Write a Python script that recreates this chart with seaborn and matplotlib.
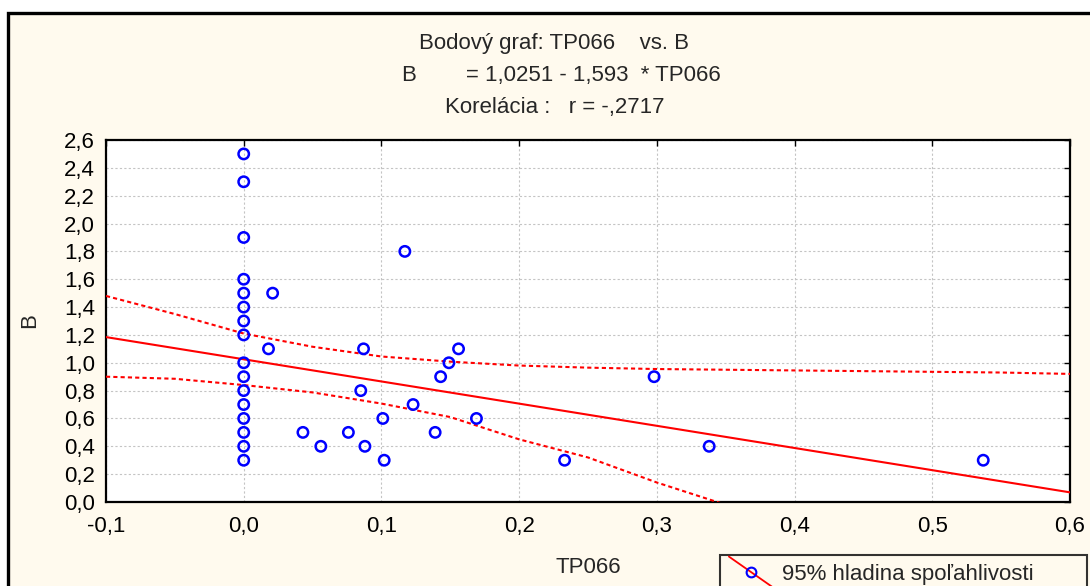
import numpy as np
import pandas as pd
import matplotlib
matplotlib.use("Agg")
import matplotlib.pyplot as plt
import seaborn as sns
from matplotlib.lines import Line2D
from matplotlib.patches import Rectangle
from matplotlib.ticker import FuncFormatter, MultipleLocator
from matplotlib.legend_handler import HandlerLine2D

# --- data ---
tp066 = [0.0] * 16 + [
    0.021, 0.117, 0.018, 0.087, 0.156, 0.149, 0.143, 0.085, 0.123, 0.101,
    0.169, 0.043, 0.076, 0.139, 0.056, 0.088, 0.102, 0.233, 0.298, 0.338, 0.537,
]
b_vals = [2.5, 2.3, 1.9, 1.6, 1.5, 1.4, 1.3, 1.2, 1.0, 0.9, 0.8, 0.7, 0.6, 0.5, 0.4, 0.3] + [
    1.5, 1.8, 1.1, 1.1, 1.1, 1.0, 0.9, 0.8, 0.7, 0.6,
    0.6, 0.5, 0.5, 0.5, 0.4, 0.4, 0.3, 0.3, 0.9, 0.4, 0.3,
]

# regression from the title
intercept = 1.0251
slope = -1.593

# 95% confidence band
band_x = [-0.1, -0.05, 0.0, 0.05, 0.1, 0.15, 0.2, 0.25, 0.3, 0.35, 0.4, 0.45, 0.5, 0.55, 0.6]
band_upper = [1.48, 1.35, 1.21, 1.115, 1.045, 1.008, 0.98, 0.965, 0.955, 0.95, 0.945, 0.94, 0.935, 0.93, 0.92]
band_lower_x = [-0.1, -0.05, 0.0, 0.05, 0.1, 0.15, 0.2, 0.25, 0.3, 0.35]
band_lower = [0.90, 0.885, 0.84, 0.787, 0.707, 0.61, 0.45, 0.32, 0.14, -0.02]

x_ticks = [-0.1, 0.0, 0.1, 0.2, 0.3, 0.4, 0.5, 0.6]
y_ticks = [0.0, 0.2, 0.4, 0.6, 0.8, 1.0, 1.2, 1.4, 1.6, 1.8, 2.0, 2.2, 2.4, 2.6]

CREAM = "#fffaee"
FS = 16


class HandlerDiagonal(HandlerLine2D):
    """Legend handle: slanted red line with the marker in the middle."""
    def create_artists(self, legend, orig_handle, xdescent, ydescent,
                       width, height, fontsize, trans):
        line = Line2D([-xdescent, width - xdescent],
                      [height * 1.5 - ydescent, -height * 0.5 - ydescent],
                      color=orig_handle.get_color(), lw=orig_handle.get_linewidth())
        mark = Line2D([(width - xdescent) / 2], [height / 2 - ydescent],
                      marker=orig_handle.get_marker(), markersize=orig_handle.get_markersize(),
                      markerfacecolor="none", markeredgecolor=orig_handle.get_markeredgecolor(),
                      markeredgewidth=orig_handle.get_markeredgewidth(), linestyle="none")
        line.set_transform(trans)
        mark.set_transform(trans)
        return [line, mark]


def main():
    sns.set_theme(style="white")
    plt.rcParams["font.family"] = ["Liberation Sans", "DejaVu Sans"]

    fig = plt.figure(figsize=(10.9, 5.86), dpi=100, facecolor="white")
    # outer cream panel with black frame (cut at right and bottom)
    fig.patches.append(Rectangle((8 / 1090, -0.2), 1.2, 1.2 - 13 / 586,
                                 transform=fig.transFigure, facecolor=CREAM,
                                 edgecolor="black", lw=2.4, zorder=-5))

    ax = fig.add_axes([106 / 1090, 1 - 502 / 586, 964 / 1090, 362 / 586])
    ax.set_facecolor("white")

    df = pd.DataFrame({"TP066": tp066, "B": b_vals})
    up = pd.DataFrame({"x": band_x, "y": band_upper})
    lo = pd.DataFrame({"x": band_lower_x, "y": band_lower})
    line_x = np.array([x_ticks[0], x_ticks[-1]])
    reg = pd.DataFrame({"x": line_x, "y": intercept + slope * line_x})

    sns.lineplot(data=reg, x="x", y="y", ax=ax, color="#ff0000", lw=1.5, zorder=3)
    sns.lineplot(data=up, x="x", y="y", ax=ax, color="#ff0000", lw=1.5,
                 linestyle=(0, (2, 1.5)), zorder=3)
    sns.lineplot(data=lo, x="x", y="y", ax=ax, color="#ff0000", lw=1.5,
                 linestyle=(0, (2, 1.5)), zorder=3)
    sns.scatterplot(data=df, x="TP066", y="B", ax=ax, marker="o", s=56,
                    facecolors="none", edgecolor="#0000ff", linewidth=1.8, zorder=4)

    ax.set_xlim(x_ticks[0], x_ticks[-1])
    ax.set_ylim(y_ticks[0], y_ticks[-1])
    ax.xaxis.set_major_locator(MultipleLocator(0.1))
    ax.yaxis.set_major_locator(MultipleLocator(0.2))
    comma = FuncFormatter(lambda v, p: f"{v:.1f}".replace(".", ",").replace("-0,0", "0,0"))
    ax.xaxis.set_major_formatter(comma)
    ax.yaxis.set_major_formatter(comma)
    ax.tick_params(direction="in", length=4, width=1, labelsize=FS, colors="black",
                   top=True, right=True, pad=8)
    ax.tick_params(axis="x", pad=10)
    ax.grid(True, color="#c4c4c4", lw=0.8, linestyle=(0, (2, 2)))
    for sp in ax.spines.values():
        sp.set_color("black")
        sp.set_linewidth(1.6)

    ax.set_xlabel("TP066", fontsize=FS)
    ax.set_ylabel("B", fontsize=FS)
    ax.xaxis.set_label_coords(0.5, -0.153)
    ax.yaxis.set_label_coords(-0.068, 0.5)

    fig.text(554 / 1090, 1 - 43 / 586, "Bodový graf: TP066    vs. B", ha="center", va="center", fontsize=FS)
    fig.text(561 / 1090, 1 - 75 / 586, "B        = 1,0251 - 1,593  * TP066", ha="center", va="center", fontsize=FS)
    fig.text(555 / 1090, 1 - 108 / 586, "Korelácia :   r = -,2717", ha="center", va="center", fontsize=FS)

    handle = Line2D([], [], color="#ff0000", lw=1.3, marker="o", markersize=7,
                    markeredgecolor="#0000ff", markerfacecolor="none", markeredgewidth=1.5)
    top = 1 - 555 / 586
    leg = fig.legend([handle], ["95% hladina spoľahlivosti"], loc="upper left",
                     bbox_to_anchor=(720 / 1090, top - 0.1, (1087 - 720) / 1090, 0.1),
                     mode="expand", fontsize=FS,
                     handler_map={Line2D: HandlerDiagonal()}, frameon=True,
                     fancybox=False, borderpad=0.4, handlelength=2.0, handletextpad=0.4,
                     borderaxespad=0)
    leg.get_frame().set_edgecolor("black")
    leg.get_frame().set_linewidth(1.5)
    leg.get_frame().set_facecolor(CREAM)

    fig.savefig("out.png", dpi=100, facecolor=fig.get_facecolor())
    plt.close(fig)


if __name__ == "__main__":
    main()
